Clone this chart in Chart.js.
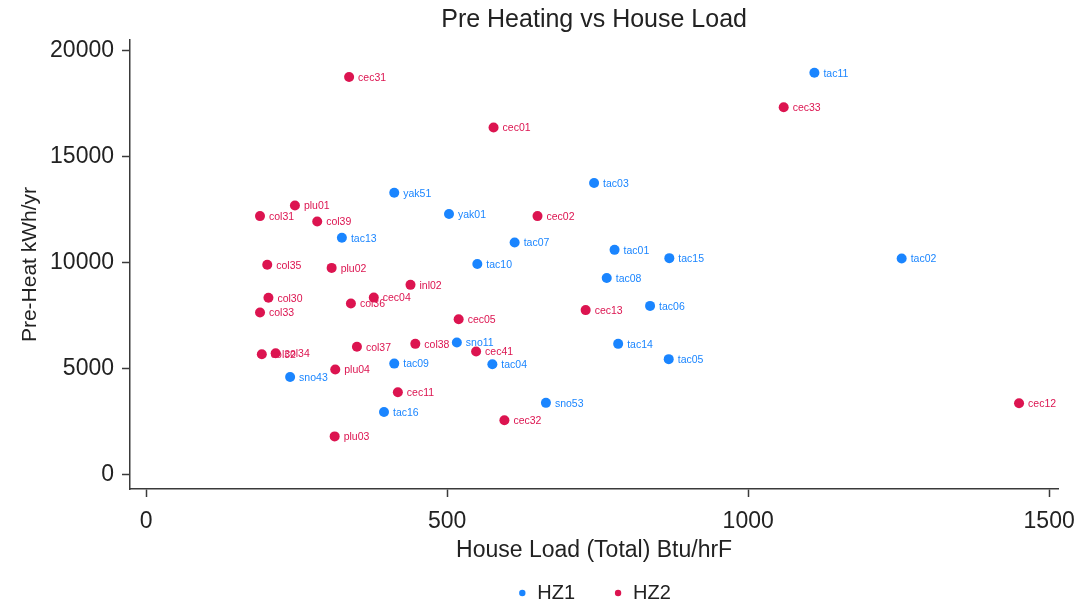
<!DOCTYPE html>
<html>
<head>
<meta charset="utf-8">
<script src="https://cdn.jsdelivr.net/npm/chart.js@4"></script>
<style>
  html, body { margin: 0; padding: 0; background: #ffffff; }
  #wrap { width: 1086px; height: 609px; }
</style>
</head>
<body>
<div id="wrap"><canvas id="c" width="1086" height="609"></canvas></div>
<script>
// ---- Data ----
const hz1Names = ["tac11","yak51","tac03","yak01","tac13","tac07","tac01","tac15","tac10","tac08","tac06","tac02","sno11","tac14","tac04","tac05","sno53","tac09","sno43","tac16"];
const hz1Load  = [1110, 412, 744, 503, 325, 612, 778, 869, 550, 765, 837, 1255, 516, 784, 575, 868, 664, 412, 239, 395];
const hz1Heat  = [18960, 13300, 13760, 12300, 11180, 10960, 10610, 10220, 9940, 9280, 7970, 10200, 6240, 6180, 5220, 5460, 3400, 5250, 4620, 2970];

const hz2Names = ["cec31","cec01","cec33","plu01","col31","col39","cec02","col35","plu02","inl02","col30","cec04","col36","col33","cec05","cec13","col38","col37","cec41","col32","col34","plu04","cec11","plu03","cec32","cec12"];
const hz2Load  = [337, 577, 1059, 247, 189, 284, 650, 201, 308, 439, 203, 378, 340, 189, 519, 730, 447, 350, 548, 192, 215, 314, 418, 313, 595, 1450];
const hz2Heat  = [18760, 16380, 17330, 12700, 12200, 11950, 12200, 9910, 9760, 8960, 8350, 8360, 8080, 7660, 7340, 7770, 6180, 6040, 5820, 5690, 5740, 4970, 3900, 1820, 2580, 3380];

const xTicks = [0, 500, 1000, 1500];
const yTicks = [0, 5000, 10000, 15000, 20000];

const titleText = "Pre Heating vs House Load";
const xTitle = "House Load (Total) Btu/hrF";
const yTitle = "Pre-Heat kWh/yr";
const seriesNames = ["HZ1", "HZ2"];

// ---- Styles ----
const BLUE = "#1a85ff";
const RED = "#dc1450";
const AXIS = "#3a3a3a";
const FONT = "'Liberation Sans', Arial, Helvetica, sans-serif";

function toPoints(xs, ys, names) {
  return xs.map((x, i) => ({ x: x, y: ys[i], name: names[i] }));
}

const pointLabels = {
  id: "pointLabels",
  afterDatasetsDraw(chart) {
    const ctx = chart.ctx;
    ctx.save();
    ctx.font = "10.5px " + FONT;
    ctx.textBaseline = "middle";
    ctx.textAlign = "left";
    chart.data.datasets.forEach((ds, di) => {
      const meta = chart.getDatasetMeta(di);
      meta.data.forEach((el, i) => {
        ctx.fillStyle = ds.backgroundColor;
        ctx.fillText(ds.data[i].name, el.x + 9, el.y + 1);
      });
    });
    ctx.restore();
  }
};

const ctx = document.getElementById("c").getContext("2d");
new Chart(ctx, {
  type: "scatter",
  data: {
    datasets: [
      { label: seriesNames[0], data: toPoints(hz1Load, hz1Heat, hz1Names),
        backgroundColor: BLUE, borderColor: BLUE, pointRadius: 5, pointBorderWidth: 0 },
      { label: seriesNames[1], data: toPoints(hz2Load, hz2Heat, hz2Names),
        backgroundColor: RED, borderColor: RED, pointRadius: 5, pointBorderWidth: 0 }
    ]
  },
  options: {
    responsive: false,
    animation: false,
    layout: { padding: { left: 0, right: 20, top: 0, bottom: -4 } },
    plugins: {
      title: {
        display: true, text: titleText, color: "#222", fullSize: false,
        font: { family: FONT, size: 25, weight: "normal" },
        padding: { top: 5, bottom: 5 }
      },
      legend: {
        display: true, position: "bottom", fullSize: false,
        labels: {
          usePointStyle: true, pointStyle: "circle",
          boxWidth: 10, boxHeight: 4.5, padding: 38,
          color: "#222", font: { family: FONT, size: 20 }
        }
      },
      tooltip: { enabled: false }
    },
    scales: {
      x: {
        type: "linear", min: -27, max: 1515,
        afterBuildTicks: (s) => { s.ticks = xTicks.map(v => ({ value: v })); },
        afterFit: (s) => { s.height = 56; },
        border: { display: true, color: AXIS, width: 1.5 },
        grid: { drawOnChartArea: false, drawTicks: true, tickLength: 8, color: AXIS, tickWidth: 1.5 },
        ticks: { color: "#222", font: { family: FONT, size: 23 }, padding: 11, maxRotation: 0,
                 callback: (v) => String(v) },
        title: { display: true, text: xTitle, color: "#222",
                 font: { family: FONT, size: 23 }, padding: { top: 0, bottom: -19 } }
      },
      y: {
        type: "linear", min: -660, max: 20500,
        afterBuildTicks: (s) => { s.ticks = yTicks.map(v => ({ value: v })); },
        afterFit: (s) => { s.width = 130; },
        border: { display: true, color: AXIS, width: 1.5 },
        grid: { drawOnChartArea: false, drawTicks: true, tickLength: 8, color: AXIS, tickWidth: 1.5 },
        ticks: { color: "#222", font: { family: FONT, size: 23 }, padding: 8,
                 callback: (v) => String(v) },
        title: { display: true, text: yTitle, color: "#222",
                 font: { family: FONT, size: 21 }, padding: { top: 18, bottom: 0 } }
      }
    }
  },
  plugins: [pointLabels]
});
</script>
</body>
</html>
